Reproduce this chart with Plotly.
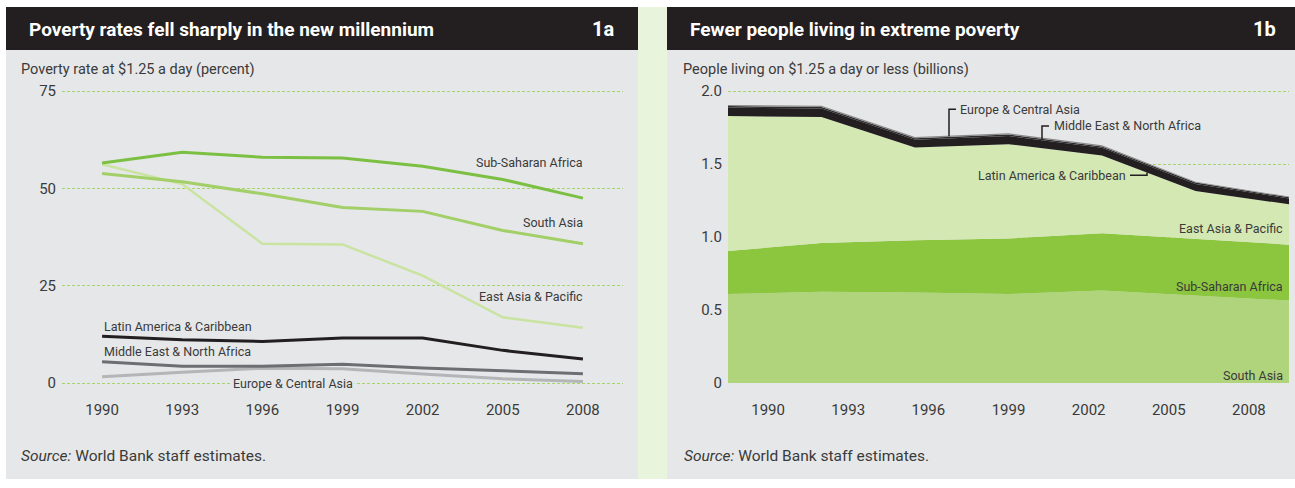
import plotly.graph_objects as go

W, H = 1295, 488

# ---------------- data ----------------
years = [1990, 1993, 1996, 1999, 2002, 2005, 2008]
year_labels = ["1990", "1993", "1996", "1999", "2002", "2005", "2008"]

# 1a: poverty rate at $1.25 a day (percent)
rate_ssa = [56.5, 59.3, 58.0, 57.8, 55.7, 52.3, 47.5]
rate_sa = [53.8, 51.7, 48.6, 45.1, 44.1, 39.2, 35.8]
rate_eap = [56.2, 51.1, 35.8, 35.6, 27.6, 16.9, 14.2]
rate_lac = [12.0, 11.1, 10.7, 11.6, 11.6, 8.4, 6.2]
rate_mena = [5.5, 4.3, 4.3, 4.8, 3.9, 3.1, 2.4]
rate_eca = [1.6, 2.8, 3.8, 3.7, 2.3, 1.1, 0.4]
rate_ticks = [0, 25, 50, 75]

# 1b: people living on $1.25 a day or less (billions), stacked
pop_sa = [0.610, 0.625, 0.620, 0.610, 0.633, 0.600, 0.565]
pop_ssa = [0.294, 0.335, 0.358, 0.380, 0.393, 0.386, 0.383]
pop_eap = [0.925, 0.862, 0.636, 0.646, 0.532, 0.330, 0.276]
pop_lac = [0.058, 0.059, 0.052, 0.056, 0.053, 0.048, 0.040]
pop_mena = [0.010, 0.010, 0.010, 0.010, 0.009, 0.009, 0.008]
pop_eca = [0.008, 0.009, 0.009, 0.009, 0.008, 0.006, 0.005]
pop_ticks = [0, 0.5, 1.0, 1.5, 2.0]
pop_tick_text = ["0", "0.5", "1.0", "1.5", "2.0"]

# ---------------- helpers ----------------
def px(x):
    return x / W

def py(y):
    return 1 - y / H

FONT = "Roboto, 'Liberation Sans', Arial, sans-serif"
DARK = "#231f20"
PANEL = "#e6e7e8"
STRIP = "#e9f4dc"
GRID = "#a8d46c"
TXT = "#3a3a3a"

fig = go.Figure()

left_series = [
    (rate_eca, "#b3b5b7", 3),
    (rate_mena, "#6d6e71", 3),
    (rate_lac, "#231f20", 3),
    (rate_eap, "#c9e3a0", 2.5),
    (rate_sa, "#a2cf68", 3),
    (rate_ssa, "#7cc043", 3),
]
for vals, col, w in left_series:
    fig.add_trace(go.Scatter(x=years, y=vals, mode="lines",
                             line=dict(color=col, width=w),
                             xaxis="x", yaxis="y", showlegend=False,
                             hoverinfo="skip"))

stack = [
    (pop_sa, "#afd47c"),
    (pop_ssa, "#8cc63f"),
    (pop_eap, "#d4e8b3"),
    (pop_lac, "#231f20"),
    (pop_mena, "#2e2c2d"),
    (pop_eca, "#8a8a8a"),
]
for vals, col in stack:
    fig.add_trace(go.Scatter(x=years, y=vals, mode="lines",
                             stackgroup="one", line=dict(width=0, color=col),
                             fillcolor=col, xaxis="x2", yaxis="y2",
                             showlegend=False, hoverinfo="skip"))

fig.add_trace(go.Scatter(x=years, y=[None] * len(years), xaxis="x3", yaxis="y2",
                         showlegend=False, hoverinfo="skip"))

tickfont = dict(family=FONT, size=15, color=TXT)
griddef = dict(showgrid=True, gridcolor=GRID, gridwidth=1, griddash="3px,2px",
               zeroline=False, showline=False)

fig.update_layout(
    width=W, height=H, autosize=False,
    margin=dict(l=0, r=0, t=0, b=0),
    paper_bgcolor="white",
    plot_bgcolor="rgba(0,0,0,0)",
    font=dict(family=FONT, color=TXT),
    xaxis=dict(domain=[px(62), px(623)], range=[1988.5, 2009.5],
               tickvals=years, ticktext=year_labels, showgrid=False,
               zeroline=False, showline=False, ticks="", tickfont=tickfont,
               ticklabelstandoff=8, anchor="y", fixedrange=True),
    yaxis=dict(domain=[py(398), py(84)], range=[-2, 77],
               tickvals=rate_ticks, ticks="", tickfont=tickfont,
               ticklabelstandoff=5, anchor="x", fixedrange=True, **griddef),
    xaxis2=dict(domain=[px(728), px(1289)], range=[1990, 2008],
                visible=False, anchor="y2", fixedrange=True),
    xaxis3=dict(domain=[px(728), px(1289)], range=[1988.5, 2009.5],
                overlaying="x2", anchor="y2", tickvals=years,
                ticktext=year_labels, showgrid=False, zeroline=False,
                showline=False, ticks="", tickfont=tickfont,
                ticklabelstandoff=16, fixedrange=True),
    yaxis2=dict(domain=[py(390), py(84.5)], range=[0, 2.05],
                tickvals=pop_ticks, ticktext=pop_tick_text, ticks="",
                tickfont=tickfont, ticklabelstandoff=5, anchor="x2",
                fixedrange=True, **griddef),
)

shapes = [
    dict(type="rect", xref="paper", yref="paper", x0=px(638), x1=px(667),
         y0=py(H), y1=py(6), fillcolor=STRIP, line=dict(width=0), layer="below"),
    dict(type="rect", xref="paper", yref="paper", x0=px(6), x1=px(638),
         y0=py(H), y1=py(50), fillcolor=PANEL, line=dict(width=0), layer="below"),
    dict(type="rect", xref="paper", yref="paper", x0=px(667), x1=px(W),
         y0=py(H), y1=py(50), fillcolor=PANEL, line=dict(width=0), layer="below"),
    dict(type="rect", xref="paper", yref="paper", x0=px(6), x1=px(638),
         y0=py(50), y1=py(6), fillcolor=DARK, line=dict(width=0), layer="below"),
    dict(type="rect", xref="paper", yref="paper", x0=px(667), x1=px(W),
         y0=py(50), y1=py(6), fillcolor=DARK, line=dict(width=0), layer="below"),
]
def path(points):
    d = "M " + " L ".join(f"{px(a):.5f},{py(b):.5f}" for a, b in points)
    return dict(type="path", xref="paper", yref="paper", path=d,
                line=dict(color=DARK, width=1.5), layer="above")

shapes.append(path([(956, 110.5), (949, 110.5), (949, 138)]))
shapes.append(path([(1049, 127.5), (1042, 127.5), (1042, 141)]))
shapes.append(path([(1130, 178), (1147, 178), (1147, 175)]))
fig.update_layout(shapes=shapes)

def ann(text, x, y, xanchor="left", size=12.5, color=TXT, bold=False, bg=None):
    a = dict(text=text, x=px(x), y=py(y), xref="paper", yref="paper",
             xanchor=xanchor, yanchor="middle", showarrow=False,
             font=dict(family=FONT, size=size, color=color))
    if bold:
        a["font"]["weight"] = "bold"
    if bg:
        a["bgcolor"] = bg
        a["borderpad"] = 1
    fig.add_annotation(**a)

ann("Poverty rates fell sharply in the new millennium", 27, 29, size=19,
    color="white", bold=True)
ann("1a", 616, 29, xanchor="right", size=20, color="white", bold=True)
ann("Fewer people living in extreme poverty", 688, 29, size=19,
    color="white", bold=True)
ann("1b", 1278, 29, xanchor="right", size=20, color="white", bold=True)

ann("Poverty rate at $1.25 a day (percent)", 19, 70, size=14.5)
ann("People living on $1.25 a day or less (billions)", 681, 70, size=14.5)

ann("<i>Source:</i> World Bank staff estimates.", 19, 465, size=15.5)
ann("<i>Source:</i> World Bank staff estimates.", 682, 465, size=15.5)

ann("Sub-Saharan Africa", 585, 165, xanchor="right")
ann("South Asia", 585, 226, xanchor="right")
ann("East Asia &amp; Pacific", 585, 302, xanchor="right")
ann("Latin America &amp; Caribbean", 102, 332)
ann("Middle East &amp; North Africa", 102, 357.5)
ann("Europe &amp; Central Asia", 293, 390.5, xanchor="center", bg=PANEL)

ann("Europe &amp; Central Asia", 958, 111)
ann("Middle East &amp; North Africa", 1052, 127.5)
ann("Latin America &amp; Caribbean", 1128, 178.5, xanchor="right")
ann("East Asia &amp; Pacific", 1285, 232, xanchor="right")
ann("Sub-Saharan Africa", 1285, 291, xanchor="right")
ann("South Asia", 1285, 382, xanchor="right")

page_css = ("margin:0;padding:0;width:1295px;height:488px;overflow:hidden;")
fig.write_html(
    "out.html",
    config={"displayModeBar": False, "staticPlot": True},
    post_script=(
        f"document.documentElement.style.cssText='{page_css}';"
        f"document.body.style.cssText='{page_css}';"
    ),
)
